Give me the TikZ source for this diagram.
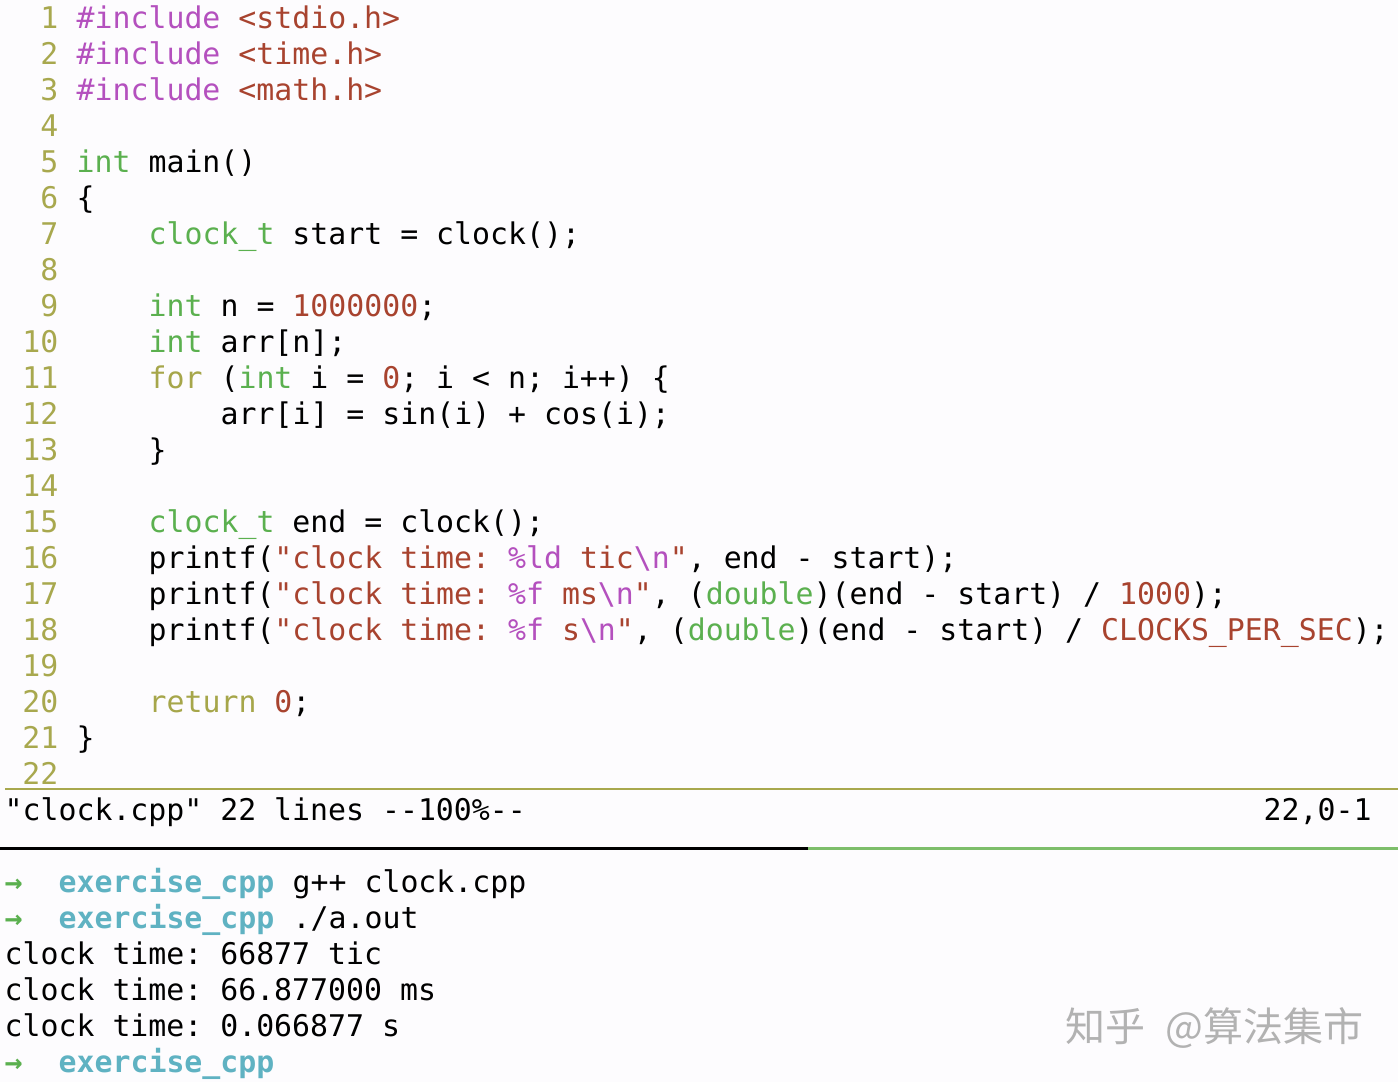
\documentclass[tikz,border=0pt]{standalone}
\usepackage{fontspec}
\usepackage{xcolor}
\newfontfamily\codefont{DejaVu Sans Mono}
\newfontfamily\cjkfont{Noto Sans CJK SC}
\definecolor{pagebg}{HTML}{FDFCFE}
\definecolor{numcol}{HTML}{A8A84E}
\definecolor{precol}{HTML}{B450BE}
\definecolor{strcol}{HTML}{A8432F}
\definecolor{typecol}{HTML}{5BB04F}
\definecolor{ctrlcol}{HTML}{A6A64A}
\definecolor{dircol}{HTML}{5FB2C2}
\definecolor{rulecol}{HTML}{7DBE6B}
\newcommand{\pre}[1]{\textcolor{precol}{#1}}
\newcommand{\str}[1]{\textcolor{strcol}{#1}}
\newcommand{\typ}[1]{\textcolor{typecol}{#1}}
\newcommand{\ctrl}[1]{\textcolor{ctrlcol}{#1}}
\tikzset{
  codeline/.style={anchor=base west, inner sep=0pt, xshift=0.5pt, yshift=0.7pt, font=\codefont\frenchspacing\fontsize{29.85}{36}\selectfont, text=black},
  lineno/.style={codeline, anchor=base east, text=numcol},
  prompt/.style={codeline, font=\codefont\frenchspacing\bfseries\fontsize{29.85}{36}\selectfont, text=dircol},
  arrowtip/.style={prompt, text=typecol}
}

\begin{document}
\begin{tikzpicture}[x=1pt,y=-1pt]
\fill[pagebg] (0,0) rectangle (1398,1082);
\useasboundingbox (0,0) rectangle (1398,1082);

% Line numbers
\foreach \n in {1,...,22} {
  \node[lineno] (num\n) at (58,{29+36*(\n-1)}) {\n};
}

% Source
\node[codeline] (inca) at (76,29) {\pre{\#include} \str{<stdio.h>}};
\node[codeline] (incb) at (76,65) {\pre{\#include} \str{<time.h>}};
\node[codeline] (incc) at (76,101) {\pre{\#include} \str{<math.h>}};
\node[codeline] (mainfn) at (76,173) {\typ{int} main()};
\node[codeline] (open) at (76,209) {\{};
\node[codeline] (start) at (148,245) {\typ{clock\_t} start = clock();};
\node[codeline] (size) at (148,317) {\typ{int} n = \str{1000000};};
\node[codeline] (arr) at (148,353) {\typ{int} arr[n];};
\node[codeline] (loop) at (148,389) {\ctrl{for} (\typ{int} i = \str{0}; i < n; i++) \{};
\node[codeline] (body) at (220,425) {arr[i] = sin(i) + cos(i);};
\node[codeline] (loopend) at (148,461) {\}};
\node[codeline] (stop) at (148,533) {\typ{clock\_t} end = clock();};
\node[codeline] (ptic) at (148,569) {printf(\str{"clock time:} \pre{\%ld} \str{tic}\pre{\textbackslash n}\str{"}, end - start);};
\node[codeline] (pms) at (148,605) {printf(\str{"clock time:} \pre{\%f} \str{ms}\pre{\textbackslash n}\str{"}, (\typ{double})(end - start) / \str{1000});};
\node[codeline] (psec) at (148,641) {printf(\str{"clock time:} \pre{\%f} \str{s}\pre{\textbackslash n}\str{"}, (\typ{double})(end - start) / \str{CLOCKS\_PER\_SEC});};
\node[codeline] (ret) at (148,713) {\ctrl{return} \str{0};};
\node[codeline] (close) at (76,749) {\}};

% Status line
\draw[numcol, line width=2.4pt] (5,789) -- (1398,789);
\node[codeline] (status) at (4,821) {"clock.cpp" 22 lines --100\%--};
\node[codeline] (cursor) at (1263,821) {22,0-1};

% Split
\draw[black, line width=3pt] (0,848) -- (808,848);
\draw[rulecol, line width=3pt] (808,848) -- (1398,848);

% Terminal
\node[arrowtip] (arrowa) at (4,893) {→};
\node[prompt] (dira) at (58,893) {exercise\_cpp};
\node[codeline] (cmda) at (292,893) {g++ clock.cpp};
\node[arrowtip] (arrowb) at (4,929) {→};
\node[prompt] (dirb) at (58,929) {exercise\_cpp};
\node[codeline] (cmdb) at (292,929) {./a.out};
\node[codeline] (outa) at (4,965) {clock time: 66877 tic};
\node[codeline] (outb) at (4,1001) {clock time: 66.877000 ms};
\node[codeline] (outc) at (4,1037) {clock time: 0.066877 s};
\node[arrowtip] (arrowc) at (4,1073) {→};
\node[prompt] (dirc) at (58,1073) {exercise\_cpp};

% Watermark
\node[anchor=base west, inner sep=0pt, text=black!30, font=\cjkfont\fontsize{40}{40}\selectfont] (mark) at (1065,1041) {知乎 \hspace{11pt}@算法集市};
\end{tikzpicture}
\end{document}
